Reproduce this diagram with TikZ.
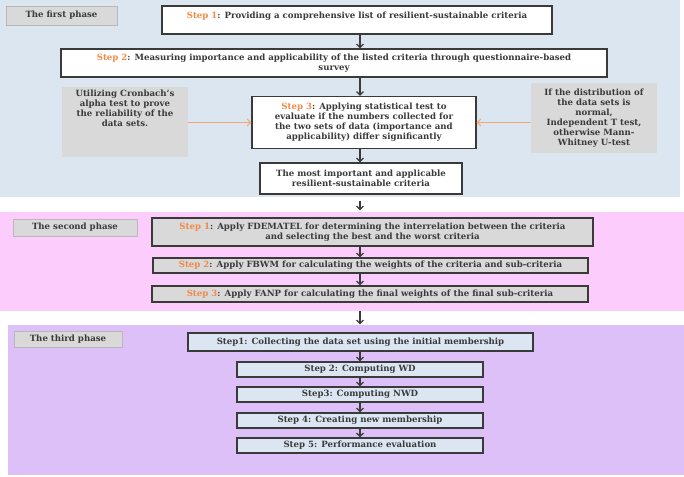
\documentclass[tikz,border=0pt]{standalone}
\usepackage{fontspec}
\setmainfont{DejaVu Serif}
\usetikzlibrary{arrows.meta}
\definecolor{phaseone}{RGB}{220,230,241}
\definecolor{phasetwo}{RGB}{252,204,252}
\definecolor{phasethree}{RGB}{221,192,248}
\definecolor{boxgray}{RGB}{217,217,217}
\definecolor{boxblue}{RGB}{220,230,242}
\definecolor{steporange}{RGB}{240,138,70}
\definecolor{arroworange}{RGB}{244,165,115}
\definecolor{inkgray}{RGB}{58,58,58}
\newcommand{\stepno}[1]{\textcolor{steporange}{#1}}
\begin{document}
\begin{tikzpicture}[x=1pt,y=-1pt,
		every node/.style={font=\bfseries\fontsize{8.6}{10}\selectfont,text=inkgray,inner sep=0pt},
		phaselabel/.style={fill=boxgray,draw=boxgray!85!black,line width=0.6pt},
		stepbox/.style={draw=inkgray,line width=1.2pt,align=center},
		sidebox/.style={fill=boxgray,align=center},
		flow/.style={-{Straight Barb[length=3.5pt,width=7pt]},line width=1.2pt,draw=inkgray},
		feed/.style={-{Straight Barb[length=3.5pt,width=7pt]},line width=1pt,draw=arroworange}]
		\useasboundingbox (0,0) rectangle (684,476);
		\fill[phaseone] (0,0) rectangle (680,197);
		\fill[phasetwo] (0,212) rectangle (684,311);
		\fill[phasethree] (8,325) rectangle (684,475);
		\coordinate (axis) at (360,0);
		% first phase
		\node[phaselabel,minimum width=111,minimum height=19] (ph1) at (61.5,15.5) {The first phase};
		\node[stepbox,fill=white,minimum width=390,minimum height=28,text depth=9pt] (s1) at (357,20)
		{\stepno{Step 1}: Providing a comprehensive list of resilient-sustainable criteria};
		\node[stepbox,fill=white,minimum width=546,minimum height=28] (s2) at (334,63)
		{\stepno{Step 2}: Measuring importance and applicability of the listed criteria through questionnaire-based\\survey};
		\node[stepbox,fill=white,minimum width=224,minimum height=52] (s3) at (364,122.5)
		{\stepno{Step 3}: Applying statistical test to\\evaluate if the numbers collected for\\the two sets of data (importance and\\applicability) differ significantly};
		\node[sidebox,minimum width=126,minimum height=70] (crb) at (125,122)
		{\parbox[c][64pt][t]{124pt}{\centering Utilizing Cronbach's\\alpha test to prove\\the reliability of the\\data sets.}};
		\node[sidebox,minimum width=126,minimum height=70] (dist) at (594,118)
		{If the distribution of\\the data sets is\\normal,\\Independent T test,\\otherwise Mann-\\Whitney U-test};
		\node[stepbox,fill=white,minimum width=202,minimum height=31] (best) at (361,178.5)
		{The most important and applicable\\resilient-sustainable criteria};
		% second phase
		\node[phaselabel,minimum width=124,minimum height=17] (ph2) at (75,227.5) {The second phase};
		\node[stepbox,fill=boxgray,minimum width=441,minimum height=28] (f1) at (372.5,232)
		{\stepno{Step 1}: Apply FDEMATEL for determining the interrelation between the criteria\\and selecting the best and the worst criteria};
		\node[stepbox,fill=boxgray,minimum width=435,minimum height=15] (f2) at (370.5,265.5)
		{\stepno{Step 2}: Apply FBWM for calculating the weights of the criteria and sub-criteria};
		\node[stepbox,fill=boxgray,minimum width=436,minimum height=16] (f3) at (370,294)
		{\stepno{Step 3}: Apply FANP for calculating the final weights of the final sub-criteria};
		% third phase
		\node[phaselabel,minimum width=108,minimum height=16] (ph3) at (68,339) {The third phase};
		\node[stepbox,fill=boxblue,minimum width=345,minimum height=18] (t1) at (360.5,342)
		{Step1: Collecting the data set using the initial membership};
		\node[stepbox,fill=boxblue,minimum width=246,minimum height=15] (t2) at (360,369.5) {Step 2: Computing WD};
		\node[stepbox,fill=boxblue,minimum width=246,minimum height=15] (t3) at (360,394.5) {Step3: Computing NWD};
		\node[stepbox,fill=boxblue,minimum width=246,minimum height=15] (t4) at (360,420.5) {Step 4: Creating new membership};
		\node[stepbox,fill=boxblue,minimum width=246,minimum height=15] (t5) at (360,445.5) {Step 5: Performance evaluation};
		% connectors
		\draw[flow] (s1.south -| axis) -- (s2.north -| axis);
		\draw[flow] (s2.south -| axis) -- (s3.north -| axis);
		\draw[flow] (s3.south -| axis) -- (best.north -| axis);
		\draw[flow,shorten <=6pt,shorten >=7pt] (best.south -| axis) -- (f1.north -| axis);
		\draw[flow] (f1.south -| axis) -- (f2.north -| axis);
		\draw[flow] (f2.south -| axis) -- (f3.north -| axis);
		\draw[flow,shorten <=8pt,shorten >=8pt] (f3.south -| axis) -- (t1.north -| axis);
		\draw[flow] (t1.south -| axis) -- (t2.north -| axis);
		\draw[flow] (t2.south -| axis) -- (t3.north -| axis);
		\draw[flow] (t3.south -| axis) -- (t4.north -| axis);
		\draw[flow] (t4.south -| axis) -- (t5.north -| axis);
		\draw[feed] (crb.east |- s3.west) -- (s3.west);
		\draw[feed] (dist.west |- s3.east) -- (s3.east);
	\end{tikzpicture}
\end{document}
